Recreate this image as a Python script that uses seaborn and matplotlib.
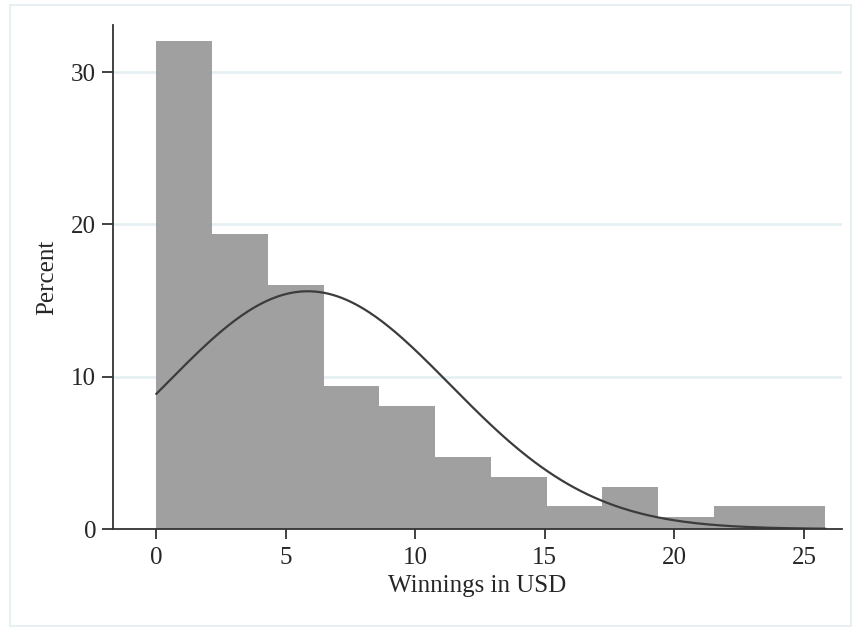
import numpy as np
import pandas as pd
import matplotlib
matplotlib.use("Agg")
import matplotlib.pyplot as plt
from matplotlib.patches import Rectangle
import seaborn as sns

# Histogram of winnings: 12 equal-width bins from 0 to 25.83 USD, heights in percent
bin_edges = [round(v, 4) for v in np.linspace(0.0, 25.83, 13)]
bin_percent = [32.06, 19.37, 16.02, 9.37, 8.05, 4.75, 3.39, 1.49, 2.74, 0.81, 1.48, 1.48]

# Normal overlay parameters (sample mean and standard deviation)
win_mean = 5.85
win_sd = 5.5

x_ticks = [0, 5, 10, 15, 20, 25]
y_ticks = [0, 10, 20, 30]
x_label = "Winnings in USD"
y_label = "Percent"

sns.set_style("white")
plt.rcParams["font.family"] = ["Liberation Serif", "DejaVu Serif"]
plt.rcParams["text.color"] = "#1a1a1a"

fig = plt.figure(figsize=(8.56, 6.30), dpi=100)
fig.patch.set_facecolor("white")

# faint outer frame of the graph region
fig.add_artist(Rectangle((9.5 / 856, 4.5 / 630), (851 - 9.5) / 856, (625.5 - 4.5) / 630,
                         transform=fig.transFigure, fill=False,
                         edgecolor="#e4eef0", linewidth=1.3))

ax = fig.add_axes([112.7 / 856, 101 / 630, (842 - 112.7) / 856, (605 - 101) / 630])

edges = np.array(bin_edges)
hist_df = pd.DataFrame({
    "winnings": (edges[:-1] + edges[1:]) / 2,
    "percent": bin_percent,
})
sns.histplot(data=hist_df, x="winnings", weights="percent", bins=bin_edges, stat="count",
             color="#a0a0a0", alpha=1.0, edgecolor="none", linewidth=0, ax=ax, zorder=2)

bw = edges[1] - edges[0]
xs = np.linspace(edges[0], edges[-1], 300)
ys = 100 * bw * np.exp(-0.5 * ((xs - win_mean) / win_sd) ** 2) / (win_sd * np.sqrt(2 * np.pi))
sns.lineplot(x=xs, y=ys, color="#3c3c3c", linewidth=1.6, ax=ax, zorder=3)

ax.set_xlim(-1.68, 26.47)
ax.set_ylim(0, 33.1)
ax.set_xticks(x_ticks)
ax.set_yticks(y_ticks)
ax.set_xticklabels([str(v) for v in x_ticks])
ax.set_yticklabels([str(v) for v in y_ticks])

# horizontal grid lines
for v in y_ticks[1:]:
    ax.axhline(v, color="#e6f0f2", linewidth=2.0, zorder=0)

for side in ["top", "right"]:
    ax.spines[side].set_visible(False)
for side in ["left", "bottom"]:
    ax.spines[side].set_color("#333333")
    ax.spines[side].set_linewidth(1.3)
    ax.spines[side].set_zorder(4)

ax.tick_params(axis="x", direction="out", length=7, width=1.3, color="#333333",
               labelsize=18, pad=6, bottom=True)
ax.tick_params(axis="y", direction="out", length=8, width=1.3, color="#333333",
               labelsize=18, pad=4, left=True)

ax.set_xlabel(x_label, fontsize=18, labelpad=4)
ax.set_ylabel(y_label, fontsize=18, labelpad=9)

fig.savefig("out.png", dpi=100, facecolor="white")
